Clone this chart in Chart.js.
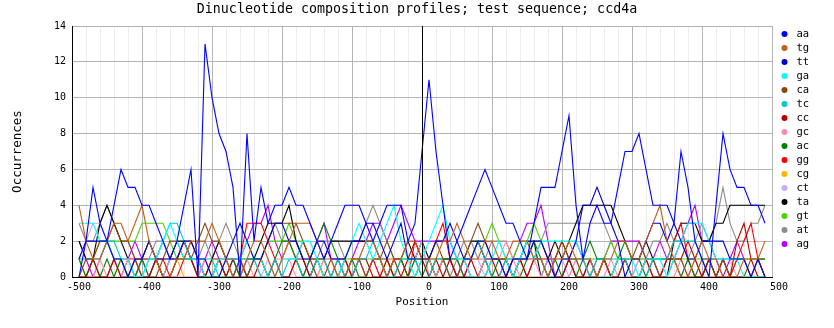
<!DOCTYPE html>
<html>
<head>
<meta charset="utf-8">
<script src="https://cdn.jsdelivr.net/npm/chart.js@4.4.0/dist/chart.umd.min.js"></script>
<style>
html, body { margin: 0; padding: 0; background: #fff; }
</style>
</head>
<body>
<canvas id="myChart" width="834" height="328"></canvas>
<script>
// window centres, step 10
var positions = [];
for (let p = -490; p <= 490; p += 10) positions.push(p);

var xTicks = [-500, -400, -300, -200, -100, 0, 100, 200, 300, 400, 500];
var yTicks = [0, 2, 4, 6, 8, 10, 12, 14];
var chartTitle = 'Dinucleotide composition profiles; test sequence; ccd4a';

var names = ['aa','tg','tt','ga','ca','tc','cc','gc','ac','gg','cg','ct','ta','gt','at','ag'];
var colours = ['#0000ff','#c0601a','#0000c8','#00ffff','#8c4614','#00c8c8','#b40000','#ff8cb4',
               '#008200','#ff0000','#ffb400','#c8aaff','#000000','#50d200','#8c8c8c','#b400ff'];

var aa = [0,2,5,3,2,4,6,5,5,4, 4,3,2,1,2,4,6,0,13,10, 8,7,5,0,8,2,5,3,4,4, 5,4,4,3,2,1,2,3,4,4,
          4,3,2,3,4,4,4,2,3,7, 11,7,4,1,2,3,4,5,6,5, 4,3,3,2,1,3,5,5,5,7, 9,4,1,3,4,3,3,5,7,7,
          8,6,4,4,4,3,7,5,2,1, 0,4,8,6,5,5,4,4,3];
var tg = [4,2,1,1,2,3,3,2,3,4, 2,1,0,0,1,1,2,2,2,3, 2,1,0,0,1,2,2,1,0,1, 2,3,3,3,2,1,1,0,0,1,
          1,2,2,1,0,1,1,2,2,1, 1,1,2,2,3,2,1,1,2,2, 1,1,2,2,2,1,1,0,1,1, 2,1,1,1,0,1,1,2,2,1,
          1,2,3,4,2,1,0,0,1,2, 1,1,0,0,0,1,1,1,2];
var tt = [1,2,2,2,2,1,1,0,1,1, 2,1,1,1,1,2,2,1,1,0, 0,1,2,3,2,1,1,2,3,3, 2,2,1,1,2,2,1,1,1,2,
          2,3,3,2,1,2,3,1,1,1, 1,2,2,3,2,1,1,2,2,1, 1,0,1,1,1,2,2,1,0,1, 1,2,4,4,5,4,3,2,0,1,
          1,2,3,3,2,3,2,1,1,2, 2,2,2,1,1,1,0,1,0];
var ga = [3,3,3,2,2,1,1,1,0,0, 1,1,2,3,2,1,1,1,0,0, 1,1,1,1,2,1,1,0,0,1, 1,1,2,2,1,0,0,0,1,2,
          3,2,1,2,3,4,2,1,0,1, 2,3,4,2,1,1,0,0,0,1, 2,1,0,1,2,1,2,2,2,2, 2,2,1,1,0,0,0,1,1,1,
          0,1,1,1,0,1,2,3,3,3, 2,1,1,1,1,0,0,0,0];
var ca = [0,1,1,2,2,3,2,2,1,0, 0,0,1,2,2,1,1,2,3,2, 2,1,0,1,0,1,1,2,3,3, 3,3,2,1,0,0,1,0,0,1,
          1,0,1,1,2,1,0,0,0,1, 1,2,1,0,0,1,2,3,2,1, 1,1,0,1,1,1,2,1,1,2, 1,1,0,0,0,1,0,0,1,1,
          2,1,1,0,0,1,1,0,0,1, 1,0,1,0,0,0,1,1,0];
var tc = [1,1,1,1,2,2,1,0,0,0, 1,1,2,3,3,2,1,1,1,1, 0,0,0,1,1,1,0,0,1,0, 1,1,0,0,1,1,0,1,0,0,
          1,1,2,1,0,0,1,1,1,0, 0,1,1,0,0,1,1,2,1,0, 0,1,1,1,2,1,1,0,0,1, 1,1,1,0,1,1,1,1,1,0,
          0,0,1,1,1,2,2,2,2,1, 1,1,1,1,1,1,0,0,0];
var cc = [0,0,1,0,0,1,0,0,1,0, 0,1,0,0,1,2,1,0,0,1, 1,0,1,1,0,0,1,0,1,0, 0,1,1,0,1,0,0,1,1,0,
          1,1,0,0,1,0,0,1,2,1, 0,1,0,1,0,0,1,0,0,1, 0,0,1,1,0,1,1,1,0,0, 1,0,0,1,0,1,0,0,1,0,
          0,1,0,0,1,1,1,2,1,0, 1,0,1,0,2,3,1,0,0];
var gc = [0,0,0,1,0,0,0,1,0,0, 0,0,0,0,0,0,0,0,1,0, 0,0,0,0,1,0,0,0,1,1, 1,0,0,0,0,1,0,0,0,0,
          1,0,1,1,1,1,0,0,0,1, 1,0,1,0,0,1,0,0,1,1, 1,2,1,0,0,1,0,0,0,0, 0,1,0,0,0,0,1,0,0,0,
          0,1,0,0,0,0,1,0,1,0, 0,0,1,0,0,0,0,1,0];
var ac = [1,0,1,0,1,0,1,0,0,1, 0,1,0,0,1,1,1,0,0,0, 1,0,1,0,0,1,1,0,1,2, 2,1,0,1,2,3,2,1,0,1,
          0,0,1,1,1,0,1,0,1,0, 1,0,1,1,1,0,0,0,1,0, 1,1,0,0,1,2,1,0,1,0, 1,0,1,2,1,1,0,1,2,1,
          1,0,1,1,1,1,0,1,0,0, 1,0,1,0,0,0,0,1,1];
var gg = [0,0,0,0,0,1,1,1,1,1, 1,1,1,0,0,1,2,1,0,0, 1,1,1,1,3,3,3,2,1,0, 0,1,2,1,1,1,0,0,1,0,
          1,0,1,0,0,1,1,0,2,1, 1,2,3,1,0,1,0,0,1,0, 0,1,0,1,0,1,1,0,1,2, 1,0,0,1,0,1,0,1,1,0,
          0,1,0,0,1,2,3,1,0,0, 1,0,0,0,1,2,3,1,0];
var cg = [0,0,0,0,0,0,1,0,0,0, 0,1,1,1,1,0,0,0,0,0, 0,0,0,0,0,0,0,0,0,1, 2,1,0,0,0,1,0,0,0,0,
          0,0,0,0,1,0,0,0,0,0, 0,0,0,0,0,0,0,0,0,0, 0,0,0,0,0,0,0,0,0,1, 1,1,1,0,0,0,0,0,0,0,
          0,0,0,0,0,0,0,0,0,0, 0,0,0,0,0,0,0,0,0];
var ct = [1,2,3,3,2,1,0,0,0,1, 0,0,0,1,1,1,1,0,0,0, 0,1,0,0,0,1,0,1,0,0, 0,0,0,1,0,0,0,1,1,0,
          1,2,1,0,0,0,0,0,1,2, 0,0,0,1,0,1,1,1,0,0, 0,0,0,0,0,0,0,1,1,1, 0,1,0,1,0,0,0,0,1,0,
          1,0,1,0,1,1,0,1,0,0, 1,1,1,1,0,0,0,0,0];
var ta = [2,1,1,3,4,3,2,1,0,1, 2,1,0,1,2,2,1,1,0,1, 2,1,1,0,1,1,2,3,3,3, 4,2,1,0,1,1,2,2,2,2,
          2,2,2,1,0,1,1,2,1,2, 1,0,1,1,0,1,2,2,1,1, 1,1,0,1,2,2,0,1,2,1, 2,3,4,4,4,4,4,3,2,1,
          1,2,1,0,0,2,3,3,3,2, 2,3,3,4,4,4,4,4,4];
var gt = [1,0,1,2,2,2,2,2,2,3, 3,3,3,2,1,1,1,0,0,0, 0,0,0,1,1,1,1,2,2,2, 3,2,2,1,1,0,0,0,1,1,
          1,1,1,1,1,1,1,1,1,1, 1,1,1,1,1,1,1,2,2,3, 2,1,1,2,2,3,2,1,1,2, 1,1,1,1,1,1,2,1,1,1,
          1,1,1,1,1,1,1,1,1,1, 0,0,0,0,1,1,1,1,1];
var at = [3,2,2,3,4,3,2,2,1,1, 1,2,2,1,1,2,2,1,2,1, 2,3,2,1,0,1,1,2,3,2, 2,2,1,1,1,2,2,2,1,2,
          2,3,4,3,2,1,1,0,1,2, 0,1,1,0,1,2,2,1,1,2, 2,2,1,1,1,2,2,3,3,3, 3,3,3,3,3,3,2,1,1,0,
          1,1,2,2,3,2,2,1,2,3, 2,3,5,3,2,2,3,3,4];
var ag = [2,1,0,1,2,1,0,1,2,1, 0,1,2,1,1,2,1,0,1,2, 1,0,0,1,2,3,3,4,2,1, 2,1,0,1,2,3,1,1,0,1,
          2,2,3,3,2,3,4,3,2,2, 2,2,2,2,1,0,1,2,1,1, 1,0,1,2,3,3,4,2,0,0, 1,2,1,0,1,1,2,2,2,2,
          2,1,1,2,1,1,2,3,4,2, 2,1,0,1,2,1,0,1,1];

var series = [aa, tg, tt, ga, ca, tc, cc, gc, ac, gg, cg, ct, ta, gt, at, ag];

Chart.defaults.font.family = '"DejaVu Sans Mono", monospace';
Chart.defaults.color = '#000';

// title centred on the whole picture, and the vertical marker at position 0
const decorations = {
    id: 'decorations',
    afterDatasetsDraw(chart) {
        const ctx = chart.ctx;
        const area = chart.chartArea;
        const x = Math.round(chart.scales.x.getPixelForValue(0)) + 0.5;
        ctx.save();
        ctx.strokeStyle = '#000';
        ctx.lineWidth = 1;
        ctx.beginPath();
        ctx.moveTo(x, area.top);
        ctx.lineTo(x, area.bottom);
        ctx.stroke();
        ctx.restore();
    },
    afterDraw(chart) {
        const ctx = chart.ctx;
        ctx.save();
        ctx.font = '13.3px "DejaVu Sans Mono"';
        ctx.fillStyle = '#000';
        ctx.textAlign = 'center';
        ctx.textBaseline = 'middle';
        ctx.fillText(chartTitle, chart.width / 2, 10);
        ctx.restore();
    }
};

// legend column on the right
const sideLegend = {
    id: 'sideLegend',
    afterDraw(chart) {
        const ctx = chart.ctx;
        const area = chart.chartArea;
        ctx.save();
        ctx.font = '10.5px "DejaVu Sans Mono"';
        ctx.textBaseline = 'middle';
        ctx.textAlign = 'left';
        chart.data.datasets.forEach((ds, i) => {
            const y = area.top + 8 + i * 14;
            ctx.fillStyle = ds.borderColor;
            ctx.beginPath();
            ctx.arc(area.right + 12.5, y, 3, 0, Math.PI * 2);
            ctx.fill();
            ctx.fillStyle = '#000';
            ctx.fillText(ds.label, area.right + 24.5, y);
        });
        ctx.restore();
    }
};

var datasets = names.map((n, i) => ({
    label: n,
    data: positions.map((p, j) => ({ x: p, y: series[i][j] })),
    borderColor: colours[i],
    backgroundColor: colours[i],
    borderWidth: 1.1,
    pointRadius: 0,
    tension: 0,
    fill: false
}));

new Chart(document.getElementById('myChart'), {
    type: 'line',
    data: { datasets: datasets },
    options: {
        responsive: false,
        animation: false,
        devicePixelRatio: 1,
        layout: { padding: { left: 0, right: 62, top: 26, bottom: 0 } },
        plugins: {
            legend: { display: false },
            tooltip: { enabled: false },
            title: { display: false }
        },
        scales: {
            x: {
                type: 'linear',
                min: -500,
                max: 500,
                afterFit: s => { s.height = 51; },
                afterBuildTicks: s => {
                    var t = [];
                    for (let v = -500; v <= 500; v += 20) t.push({ value: v });
                    s.ticks = t;
                },
                ticks: {
                    autoSkip: false,
                    maxRotation: 0,
                    padding: 4,
                    labelOffset: 7,
                    font: { size: 10 },
                    callback: v => (xTicks.indexOf(v) >= 0 ? String(v) : '')
                },
                grid: {
                    drawTicks: false,
                    color: c => (c.tick && xTicks.indexOf(c.tick.value) >= 0 ? '#b4b4b4' : '#ececec')
                },
                border: { color: '#000' },
                title: {
                    display: true,
                    text: 'Position',
                    font: { size: 11 },
                    padding: { top: 0, bottom: 19 }
                }
            },
            y: {
                min: 0,
                max: 14,
                afterFit: s => { s.width = 72; },
                afterBuildTicks: s => { s.ticks = yTicks.map(v => ({ value: v })); },
                ticks: {
                    padding: 6,
                    font: { size: 10 }
                },
                grid: { drawTicks: false, color: '#b4b4b4' },
                border: { color: '#000' },
                title: {
                    display: true,
                    text: 'Occurrences',
                    font: { size: 12.5 },
                    padding: { top: 10, bottom: 0 }
                }
            }
        }
    },
    plugins: [decorations, sideLegend]
});
</script>
</body>
</html>
